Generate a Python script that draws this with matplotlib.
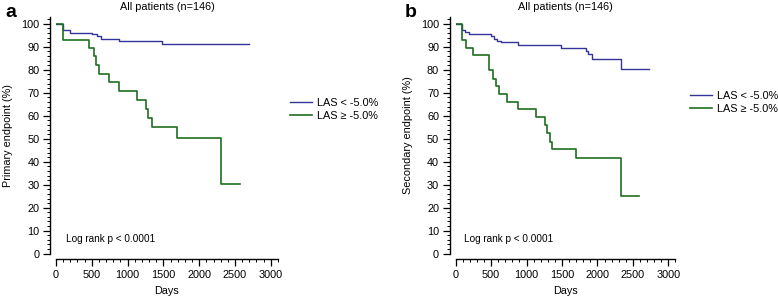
import numpy as np
import matplotlib.pyplot as plt
from matplotlib.ticker import MultipleLocator

plt.rcParams["font.family"] = ["Liberation Sans", "DejaVu Sans"]

# Panel a: primary endpoint (step times in days, survival in %)
a_low_days = [0, 93, 196, 498, 568, 629, 885, 1476, 2701]
a_low_surv = [100, 97.2, 96.2, 95.5, 94.8, 93.5, 92.4, 91.3, 91.3]
a_high_days = [0, 93, 466, 536, 559, 601, 745, 880, 1127, 1253, 1281, 1337,
               1686, 2305, 2570]
a_high_surv = [100, 93.0, 89.4, 85.8, 82.0, 78.2, 74.5, 71.0, 66.9, 63.0,
               59.2, 55.0, 50.5, 30.3, 30.3]

# Panel b: secondary endpoint
b_low_days = [0, 84, 131, 188, 498, 540, 578, 639, 883, 1485, 1837, 1870,
              1926, 2327, 2721]
b_low_surv = [100, 97.2, 96.4, 95.5, 94.5, 93.5, 92.7, 91.9, 91.0, 89.7,
              88.2, 86.8, 84.9, 80.2, 80.2]
b_high_days = [0, 84, 145, 240, 470, 530, 564, 611, 728, 883, 1128, 1259,
               1292, 1330, 1354, 1692, 2327, 2589]
b_high_surv = [100, 93.0, 89.7, 86.5, 79.8, 76.2, 72.8, 69.5, 66.2, 63.0,
               59.3, 56.0, 52.7, 48.8, 45.7, 41.8, 25.1, 25.1]

labels = ["LAS < -5.0%", "LAS \u2265 -5.0%"]
blue = "#33339a"
green = "#1f6e1f"

fig = plt.figure(figsize=(7.78, 2.96), dpi=100)
ax_a = fig.add_axes([0.072, 0.143, 0.2853, 0.7997])
ax_b = fig.add_axes([0.5857, 0.143, 0.2825, 0.7997])

panels = [
    (ax_a, a_low_days, a_low_surv, a_high_days, a_high_surv,
     "Primary endpoint (%)", "a", 140, (1.054, 0.61)),
    (ax_b, b_low_days, b_low_surv, b_high_days, b_high_surv,
     "Secondary endpoint (%)", "b", 121, (1.066, 0.64)),
]

for ax, ld, ls, hd, hs, ylab, tag, px, legpos in panels:
    ax.step(ld, ls, where="post", color=blue, lw=1.0, label=labels[0])
    ax.step(hd, hs, where="post", color=green, lw=1.2, label=labels[1])
    ax.set_xlim(0, 3100)
    ax.set_ylim(0, 103)
    ax.spines["top"].set_visible(False)
    ax.spines["right"].set_visible(False)
    ax.spines["left"].set_position(("outward", 4))
    ax.spines["bottom"].set_position(("outward", 4))
    ax.spines["left"].set_linewidth(1.0)
    ax.spines["bottom"].set_linewidth(1.0)
    ax.set_xticks(np.arange(0, 3001, 500))
    ax.set_yticks(np.arange(0, 101, 10))
    ax.xaxis.set_minor_locator(MultipleLocator(100))
    ax.yaxis.set_minor_locator(MultipleLocator(2))
    ax.tick_params(which="major", length=5, width=0.9, labelsize=7.8, pad=3)
    ax.tick_params(which="minor", length=2.4, width=0.7)
    ax.set_xlabel("Days", fontsize=7.8, labelpad=4)
    ax.set_ylabel(ylab, fontsize=7.8, labelpad=6)
    ax.set_title("All patients (n=146)", fontsize=7.8, pad=5)
    ax.text(px, 6.5, "Log rank p < 0.0001", fontsize=7.2, va="center")
    ax.text(-0.23, 1.018, tag, transform=ax.transAxes, fontsize=14,
            fontweight="bold", va="center", ha="left")
    ax.legend(loc="center left", bbox_to_anchor=legpos,
              frameon=False, fontsize=7.8, handlelength=2.0,
              handletextpad=0.5, labelspacing=0.3,
              borderaxespad=0, borderpad=0)

fig.savefig("out.png", dpi=100)
